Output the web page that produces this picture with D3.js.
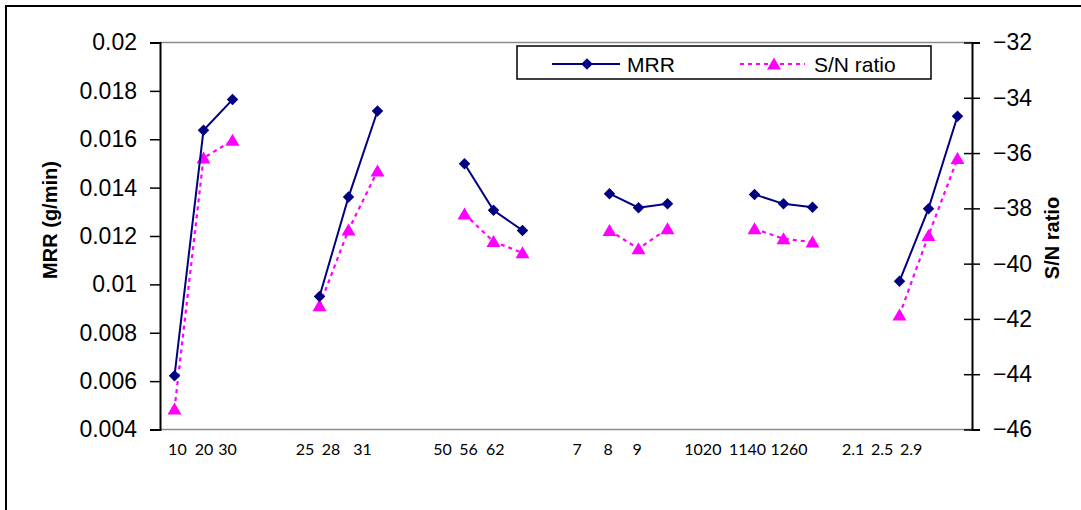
<!DOCTYPE html>
<html>
<head>
<meta charset="utf-8">
<script src="https://cdn.jsdelivr.net/npm/d3@7"></script>
<style>
  body { margin: 0; background: #fff; }
  svg { display: block; }
  .tick-left, .tick-right { font-family: "Liberation Sans", Arial, sans-serif; font-size: 23px; fill: #000; }
  .xlab { font-family: Lato, "Open Sans", sans-serif; font-size: 16px; fill: #000; }
  .title { font-family: "Liberation Sans", Arial, sans-serif; font-size: 20px; font-weight: bold; }
  .legend-text { font-family: "Liberation Sans", Arial, sans-serif; font-size: 21px; }
</style>
</head>
<body>
<div id="chart"></div>
<script>
// factor levels, 3 per factor, 6 factors
const levels = ['10', '20', '30', '25', '28', '31', '50', '56', '62', '7', '8', '9', '1020', '1140', '1260', '2.1', '2.5', '2.9'];
const mrr = [0.00622, 0.01637, 0.01764, 0.00950, 0.01361, 0.01717, 0.01499, 0.01306, 0.01223,
  0.01375, 0.01317, 0.01333, 0.01372, 0.01333, 0.01319, 0.01013, 0.01313, 0.01695];
const snRatio = [-45.26, -36.18, -35.54, -41.52, -38.78, -36.65, -38.2, -39.2, -39.61,
  -38.8, -39.46, -38.74, -38.74, -39.1, -39.22, -41.86, -38.98, -36.2];
// where excel put the category labels (in category slots)
const labelSlots = [0.1, 1.02, 1.83, 4.5, 5.4, 6.48, 9.24, 10.14, 11.06, 13.88, 14.95, 15.95, 18.22, 19.76, 21.19, 23.4, 24.4, 25.4];
const leftTicks = [0.004, 0.006, 0.008, 0.01, 0.012, 0.014, 0.016, 0.018, 0.02];
const rightTicks = [-46, -44, -42, -40, -38, -36, -34, -32];

const width = 1081, height = 510;
const plot = { left: 160, right: 972, top: 42.5, bottom: 429.5 };
const nSlots = 28; // 6 groups of 3 with 2 empty slots between

const svg = d3.select('#chart').append('svg')
  .attr('width', width)
  .attr('height', height);

// outer chart border (runs off the right and bottom)
svg.append('rect')
  .attr('x', 6).attr('y', 6)
  .attr('width', width + 10).attr('height', height + 10)
  .attr('fill', 'none').attr('stroke', '#000').attr('stroke-width', 2);

const x = d3.scaleLinear().domain([0, nSlots]).range([plot.left, plot.right]);
const slotOf = i => Math.floor(i / 3) * 5 + (i % 3);
const cx = i => x(slotOf(i) + 0.5);

const yL = d3.scaleLinear().domain([0.004, 0.02]).range([plot.bottom, plot.top]);
const yR = d3.scaleLinear().domain([-46, -32]).range([plot.bottom, plot.top]);

// plot area top + bottom lines (gray)
svg.append('line')
  .attr('x1', plot.left).attr('x2', plot.right)
  .attr('y1', plot.top).attr('y2', plot.top)
  .attr('stroke', '#8c8c8c').attr('stroke-width', 1.5);
svg.append('line')
  .attr('x1', plot.left).attr('x2', plot.right)
  .attr('y1', plot.bottom).attr('y2', plot.bottom)
  .attr('stroke', '#8c8c8c').attr('stroke-width', 1.5);

// left axis
const axL = svg.append('g')
  .attr('transform', `translate(${plot.left},0)`)
  .call(d3.axisLeft(yL).tickValues(leftTicks).tickSize(10).tickPadding(13)
    .tickFormat(d => String(+d.toFixed(3))));
axL.select('.domain').attr('stroke', '#000').attr('stroke-width', 2);
axL.selectAll('.tick line').attr('stroke-width', 1.5);
axL.selectAll('.tick text').attr('class', 'tick-left');
axL.attr('font-size', null).attr('font-family', null);

// right axis (ticks cross)
const axR = svg.append('g')
  .attr('transform', `translate(${plot.right},0)`)
  .call(d3.axisRight(yR).tickValues(rightTicks).tickSize(8).tickPadding(13));
axR.select('.domain').attr('stroke', '#000').attr('stroke-width', 2);
axR.selectAll('.tick line').attr('x1', -8).attr('stroke-width', 1.5);
axR.selectAll('.tick text').attr('class', 'tick-right');
axR.attr('font-size', null).attr('font-family', null);

// x labels
svg.append('g').selectAll('text')
  .data(levels)
  .join('text')
  .attr('class', 'xlab')
  .attr('x', (d, i) => x(labelSlots[i] + 0.5))
  .attr('y', 455)
  .attr('text-anchor', 'middle')
  .text(d => d);

// axis titles
svg.append('text')
  .attr('class', 'title')
  .attr('transform', 'translate(57,220) rotate(-90)')
  .attr('text-anchor', 'middle')
  .text('MRR (g/min)');
svg.append('text')
  .attr('class', 'title')
  .attr('transform', 'translate(1059,238) rotate(-90)')
  .attr('text-anchor', 'middle')
  .text('S/N ratio');

const groups = d3.range(6);
const idx = d3.range(levels.length);

const diamond = d3.symbol().type(d3.symbolSquare).size(66);
const tri = 'M0,-6.5L7,5.5L-7,5.5Z';

// S/N ratio series
const lineR = d3.line().x(i => cx(i)).y(i => yR(snRatio[i]));
svg.append('g').selectAll('path')
  .data(groups)
  .join('path')
  .attr('d', g => lineR(idx.filter(i => Math.floor(i / 3) === g)))
  .attr('fill', 'none')
  .attr('stroke', '#ff00ff')
  .attr('stroke-width', 2.2)
  .attr('stroke-dasharray', '4,4');
svg.append('g').selectAll('path')
  .data(idx)
  .join('path')
  .attr('d', tri)
  .attr('transform', i => `translate(${cx(i)},${yR(snRatio[i])})`)
  .attr('fill', '#ff00ff');

// MRR series
const lineL = d3.line().x(i => cx(i)).y(i => yL(mrr[i]));
svg.append('g').selectAll('path')
  .data(groups)
  .join('path')
  .attr('d', g => lineL(idx.filter(i => Math.floor(i / 3) === g)))
  .attr('fill', 'none')
  .attr('stroke', '#000080')
  .attr('stroke-width', 2);
svg.append('g').selectAll('path')
  .data(idx)
  .join('path')
  .attr('d', diamond)
  .attr('transform', i => `translate(${cx(i)},${yL(mrr[i])}) rotate(45)`)
  .attr('fill', '#000080');

// legend
const lg = svg.append('g');
lg.append('rect')
  .attr('x', 517).attr('y', 46)
  .attr('width', 414).attr('height', 33)
  .attr('fill', '#fff').attr('stroke', '#000').attr('stroke-width', 1.5);
lg.append('line')
  .attr('x1', 552).attr('x2', 620).attr('y1', 64).attr('y2', 64)
  .attr('stroke', '#000080').attr('stroke-width', 2);
lg.append('path')
  .attr('d', diamond)
  .attr('transform', 'translate(587,64) rotate(45)')
  .attr('fill', '#000080');
lg.append('text')
  .attr('class', 'legend-text')
  .attr('x', 627).attr('y', 71.5)
  .text('MRR');
lg.append('line')
  .attr('x1', 740).attr('x2', 805).attr('y1', 64).attr('y2', 64)
  .attr('stroke', '#ff00ff').attr('stroke-width', 2.2)
  .attr('stroke-dasharray', '4,4');
lg.append('path')
  .attr('d', tri)
  .attr('transform', 'translate(774,64)')
  .attr('fill', '#ff00ff');
lg.append('text')
  .attr('class', 'legend-text')
  .attr('x', 814).attr('y', 71.5)
  .text('S/N ratio');
</script>
</body>
</html>
